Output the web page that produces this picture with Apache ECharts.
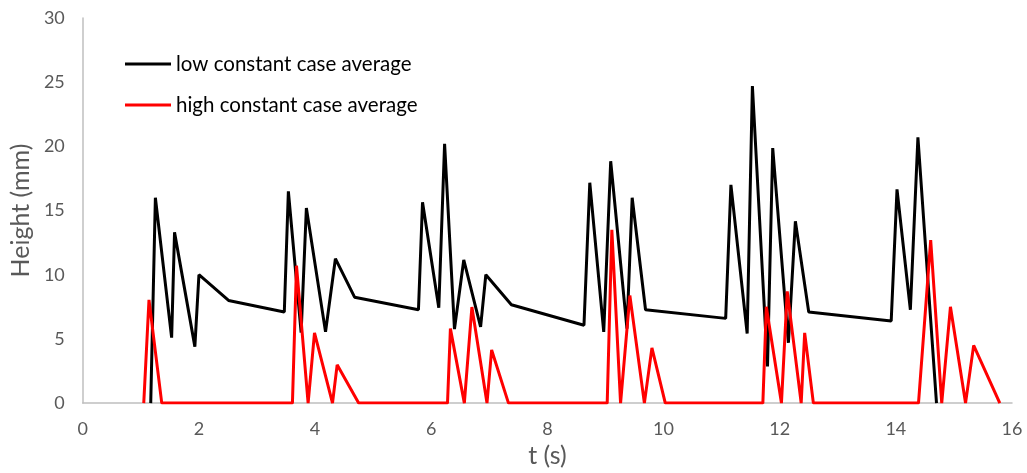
<!DOCTYPE html>
<html>
<head>
<meta charset="utf-8">
<script src="https://cdn.jsdelivr.net/npm/echarts@6/dist/echarts.min.js"></script>
<style>html,body{margin:0;padding:0;background:#fff;overflow:hidden;}#c{width:1027px;height:473px;}</style>
</head>
<body>
<div id="c"></div>
<script>
const lowName = 'low constant case average';
const highName = 'high constant case average';
const lowT = [1.17, 1.25, 1.53, 1.58, 1.93, 2.00, 2.51, 3.47, 3.54, 3.76, 3.85, 4.18, 4.35, 4.68, 5.78, 5.85, 6.13, 6.23, 6.40, 6.56, 6.85, 6.94, 7.38, 8.63, 8.73, 8.97, 9.09, 9.37, 9.46, 9.69, 11.07, 11.16, 11.44, 11.53, 11.79, 11.88, 12.15, 12.27, 12.50, 13.92, 14.02, 14.25, 14.38, 14.70];
const lowH = [0, 16.0, 5.1, 13.3, 4.4, 10.0, 8.0, 7.1, 16.5, 5.5, 15.2, 5.55, 11.25, 8.25, 7.27, 15.65, 7.43, 20.2, 5.76, 11.15, 5.94, 10.0, 7.66, 6.07, 17.17, 5.55, 18.84, 5.8, 16.0, 7.27, 6.6, 17.0, 5.42, 24.7, 2.85, 19.87, 4.7, 14.16, 7.09, 6.4, 16.65, 7.27, 20.7, 0];
const highT = [1.05, 1.14, 1.36, 3.61, 3.68, 3.88, 3.99, 4.30, 4.38, 4.75, 6.28, 6.33, 6.57, 6.70, 6.96, 7.04, 7.33, 9.03, 9.11, 9.26, 9.42, 9.67, 9.80, 10.03, 11.71, 11.77, 12.03, 12.13, 12.37, 12.43, 12.58, 14.39, 14.60, 14.79, 14.94, 15.20, 15.34, 15.79];
const highH = [0, 8.04, 0, 0, 10.7, 0, 5.47, 0, 2.98, 0, 0, 5.8, 0, 7.48, 0, 4.14, 0, 0, 13.5, 0, 8.38, 0, 4.3, 0, 0, 7.5, 0, 8.7, 0, 5.47, 0, 0, 12.7, 0, 7.5, 0, 4.5, 0];
const xTicks = [0, 2, 4, 6, 8, 10, 12, 14, 16];
const yTicks = [0, 5, 10, 15, 20, 25, 30];

const pairs = (t, h) => t.map((v, i) => [v, h[i]]);
const font = 'Lato, "Open Sans", sans-serif';
const chart = echarts.init(document.getElementById('c'), null, {renderer: 'canvas'});
chart.setOption({
  animation: false,
  backgroundColor: '#fff',
  grid: {left: 80, right: 15, top: 18, bottom: 66, containLabel: false},
  legend: {
    orient: 'vertical', left: 125, top: 52, padding: 0, itemGap: 17,
    itemWidth: 46, itemHeight: 3, icon: 'rect',
    textStyle: {fontFamily: font, fontSize: 20.5, color: '#000', lineHeight: 24},
    data: [lowName, highName]
  },
  xAxis: {
    type: 'value', min: xTicks[0], max: xTicks[xTicks.length - 1], interval: 2,
    name: 't (s)', nameLocation: 'middle', nameGap: 38,
    nameTextStyle: {fontFamily: font, fontSize: 25, color: '#595959'},
    axisLine: {show: true, lineStyle: {color: '#bfbfbf', width: 1.5}},
    axisTick: {show: false}, splitLine: {show: false},
    axisLabel: {fontFamily: font, fontSize: 18, color: '#595959', margin: 17}
  },
  yAxis: {
    type: 'value', min: yTicks[0], max: yTicks[yTicks.length - 1], interval: 5,
    name: 'Height (mm)', nameLocation: 'middle', nameGap: 46,
    nameTextStyle: {fontFamily: font, fontSize: 25, color: '#595959'},
    axisLine: {show: true, lineStyle: {color: '#bfbfbf', width: 1.5}},
    axisTick: {show: false}, splitLine: {show: false},
    axisLabel: {fontFamily: font, fontSize: 18, color: '#595959', margin: 18}
  },
  series: [
    {name: lowName, type: 'line', data: pairs(lowT, lowH), showSymbol: false, symbol: 'none',
     lineStyle: {color: '#000', width: 3}, itemStyle: {color: '#000'}, z: 2},
    {name: highName, type: 'line', data: pairs(highT, highH), showSymbol: false, symbol: 'none',
     lineStyle: {color: '#ff0000', width: 3}, itemStyle: {color: '#ff0000'}, z: 3}
  ]
});
</script>
</body>
</html>
